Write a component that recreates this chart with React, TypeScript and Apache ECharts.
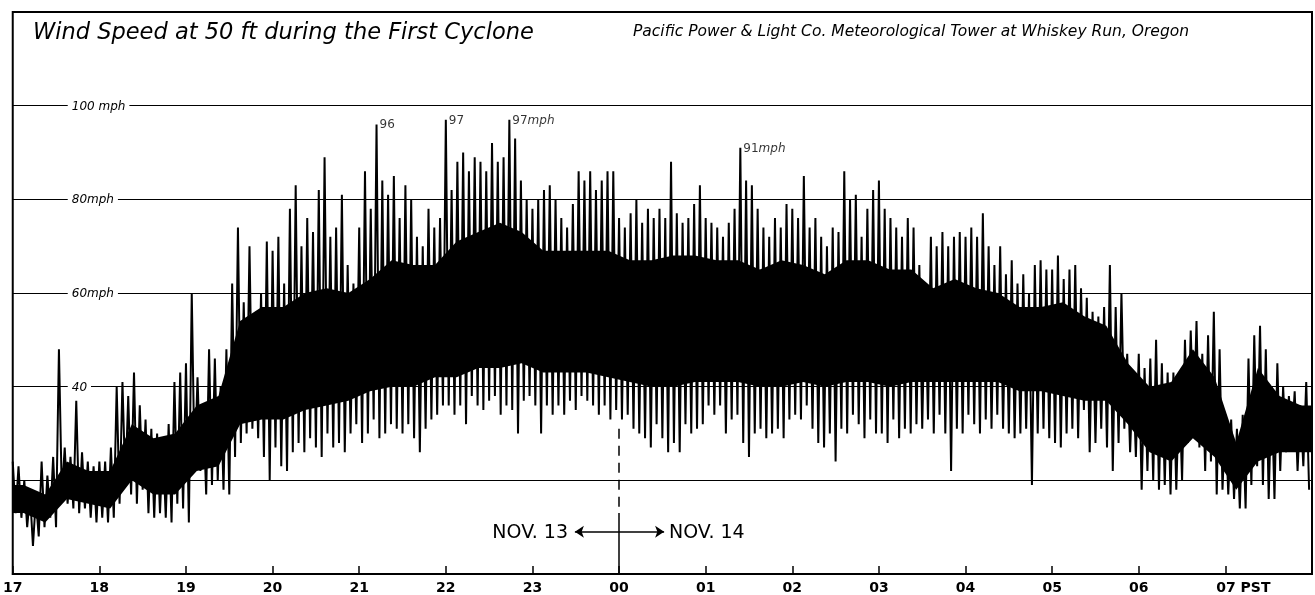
import React, { useEffect, useRef } from "react";
import * as echarts from "echarts";

// Hour labels along the time axis (17:00 Nov 13 to 08:00 Nov 14, PST)
const hourLabels = ["17", "18", "19", "20", "21", "22", "23", "00", "01", "02", "03", "04", "05", "06", "07 PST"];

// Wind speed (mph) read per 4-minute interval: highest gust and lowest lull in each interval
const hi17 = [24, 23, 20, 17, 16, 24, 21, 25, 48, 27, 25, 37, 26, 24, 23];
const lo17 = [13, 12, 10, 6, 8, 10, 12, 10, 17, 15, 14, 13, 14, 12, 11];
const hi18 = [24, 24, 27, 40, 41, 38, 43, 36, 33, 31, 30, 28, 32, 41, 43];
const lo18 = [12, 11, 12, 15, 19, 17, 15, 18, 13, 12, 13, 12, 11, 15, 14];
const hi19 = [45, 60, 42, 35, 48, 46, 40, 48, 62, 74, 58, 70, 55, 60, 71];
const lo19 = [11, 22, 22, 17, 19, 20, 18, 17, 25, 28, 30, 31, 29, 25, 20];
const hi20 = [69, 72, 62, 78, 83, 70, 76, 73, 82, 89, 72, 74, 81, 66, 62];
const lo20 = [27, 23, 22, 26, 28, 26, 29, 27, 25, 30, 27, 28, 26, 30, 32];
const hi21 = [74, 86, 78, 96, 84, 81, 85, 76, 83, 80, 72, 70, 78, 74, 76];
const lo21 = [28, 30, 33, 29, 30, 32, 31, 30, 32, 29, 26, 31, 33, 34, 36];
const hi22 = [97, 82, 88, 90, 86, 89, 88, 86, 92, 88, 89, 97, 93, 84, 80];
const lo22 = [36, 34, 36, 32, 38, 36, 35, 37, 38, 34, 36, 35, 30, 37, 38];
const hi23 = [78, 80, 82, 83, 80, 76, 74, 79, 86, 84, 86, 82, 84, 86, 86];
const lo23 = [36, 30, 36, 34, 36, 34, 37, 35, 38, 37, 36, 34, 36, 33, 35];
const hi00 = [76, 74, 77, 80, 75, 78, 76, 78, 76, 88, 77, 75, 76, 79, 83];
const lo00 = [33, 34, 31, 30, 29, 27, 32, 29, 26, 28, 26, 32, 30, 31, 32];
const hi01 = [76, 75, 74, 72, 75, 78, 91, 84, 83, 78, 74, 72, 76, 74, 79];
const lo01 = [36, 34, 36, 30, 33, 34, 28, 25, 30, 31, 29, 30, 31, 29, 33];
const hi02 = [78, 76, 85, 74, 76, 72, 70, 74, 73, 86, 80, 81, 72, 78, 82];
const lo02 = [34, 33, 36, 31, 28, 27, 30, 24, 31, 30, 34, 32, 29, 33, 30];
const hi03 = [84, 78, 76, 74, 72, 76, 74, 66, 62, 72, 70, 73, 70, 72, 73];
const lo03 = [30, 28, 33, 29, 31, 30, 32, 31, 33, 30, 34, 30, 22, 31, 30];
const hi04 = [72, 74, 72, 77, 70, 66, 70, 64, 67, 62, 64, 60, 66, 67, 65];
const lo04 = [34, 32, 30, 33, 31, 34, 31, 30, 29, 30, 31, 19, 30, 31, 29];
const hi05 = [65, 68, 63, 65, 66, 61, 59, 56, 55, 57, 66, 57, 60, 47, 43];
const lo05 = [28, 27, 30, 31, 29, 35, 26, 28, 31, 27, 22, 28, 31, 26, 25];
const hi06 = [47, 44, 46, 50, 45, 43, 43, 40, 50, 52, 54, 47, 51, 56, 48];
const lo06 = [18, 22, 20, 18, 19, 17, 18, 20, 28, 31, 27, 22, 24, 17, 18];
const hi07 = [34, 33, 31, 34, 46, 51, 53, 48, 40, 45, 40, 38, 39, 36, 41];
const lo07 = [17, 16, 14, 14, 19, 23, 19, 16, 16, 22, 26, 28, 22, 23, 18];

// Dense (solid black) part of the trace, per quarter hour, from 17:00 to 08:00
const coreLo = [
  13, 11, 16, 15, // 17
  14, 20, 17, 17, // 18
  22, 23, 32, 33, // 19
  33, 35, 36, 37, // 20
  39, 40, 40, 42, // 21
  42, 44, 44, 45, // 22
  43, 43, 43, 42, // 23
  41, 40, 40, 41, // 00
  41, 41, 40, 40, // 01
  41, 40, 41, 41, // 02
  40, 41, 41, 41, // 03
  41, 41, 39, 39, // 04
  38, 37, 37, 32, // 05
  26, 24, 29, 25, // 06
  18, 24, 26, 26, // 07
];
const coreHi = [
  19, 17, 24, 22, // 17
  22, 32, 29, 30, // 18
  36, 38, 54, 57, // 19
  57, 60, 61, 60, // 20
  63, 67, 66, 66, // 21
  71, 73, 75, 73, // 22
  69, 69, 69, 69, // 23
  67, 67, 68, 68, // 00
  67, 67, 65, 67, // 01
  66, 64, 67, 67, // 02
  65, 65, 61, 63, // 03
  61, 60, 57, 57, // 04
  58, 55, 53, 45, // 05
  40, 41, 48, 42, // 06
  28, 44, 38, 36, // 07
];

// Labelled peak gusts: hours after 17:00, mph, unit suffix
const peakTimes = [4.2, 5.0, 5.7333, 8.4];
const peakValues = [96, 97, 97, 91];
const peakUnits = ["", "", "mph", "mph"];

const hourBlocks = [
  [hi17, lo17], [hi18, lo18], [hi19, lo19], [hi20, lo20], [hi21, lo21],
  [hi22, lo22], [hi23, lo23], [hi00, lo00], [hi01, lo01], [hi02, lo02],
  [hi03, lo03], [hi04, lo04], [hi05, lo05], [hi06, lo06], [hi07, lo07],
];

function buildTrace(): number[][] {
  const pts: number[][] = [];
  hourBlocks.forEach(([hi, lo], h) => {
    for (let i = 0; i < hi.length; i++) {
      const t = h + i / 15;
      pts.push([t, hi[i]]);
      pts.push([t + 1 / 30, lo[i]]);
    }
  });
  return pts;
}

const FONT = "DejaVu Sans";

export default function App() {
  const ref = useRef<HTMLDivElement>(null);
  useEffect(() => {
    if (!ref.current) return;
    const chart = echarts.init(ref.current, null, { renderer: "svg" });
    const trace = buildTrace();
    const coreData = coreLo.map((v, i) => [i / 4 + 0.125, v, coreHi[i]]);
    const peaks = peakTimes.map((t, i) => [t, peakValues[i], String(peakValues[i]), peakUnits[i]]);
    const yLabel: Record<number, string> = { 100: "100 mph", 80: "80mph", 60: "60mph", 40: "40" };

    const renderCore = (params: any, api: any) => {
      if (params.dataIndex !== 0) return { type: "group", children: [] };
      const n = coreData.length;
      const upper: number[][] = [api.coord([0, coreData[0][2]])];
      for (let i = 0; i < n; i++) upper.push(api.coord([coreData[i][0], coreData[i][2]]));
      upper.push(api.coord([15, coreData[n - 1][2]]));
      const lower: number[][] = [api.coord([15, coreData[n - 1][1]])];
      for (let i = n - 1; i >= 0; i--) lower.push(api.coord([coreData[i][0], coreData[i][1]]));
      lower.push(api.coord([0, coreData[0][1]]));
      return {
        type: "polygon",
        shape: { points: upper.concat(lower) },
        style: { fill: "#000", stroke: "none" },
      };
    };

    chart.setOption({
      animation: false,
      grid: { left: 9, right: 3, top: 12, bottom: 21, show: true, borderColor: "#000", borderWidth: 2 },
      xAxis: {
        type: "value",
        min: 0,
        max: 15,
        interval: 1,
        axisLine: { show: true, onZero: false, lineStyle: { color: "#000", width: 2 } },
        axisTick: { show: true, inside: true, length: 8, lineStyle: { color: "#000", width: 1.5 } },
        splitLine: { show: false },
        axisLabel: {
          margin: 6,
          color: "#000",
          fontFamily: FONT,
          fontSize: 14,
          fontWeight: "bold",
          showMaxLabel: false,
          formatter: (v: number) => {
            const s = hourLabels[Math.round(v)];
            if (s === undefined) return "";
            if (Math.round(v) === 14) return "{p|" + s + "}";
            return s;
          },
          rich: {
            p: { padding: [0, 0, 0, 36], fontFamily: FONT, fontSize: 14, fontWeight: "bold", color: "#000" },
          },
        },
      },
      yAxis: {
        type: "value",
        min: 0,
        max: 120,
        interval: 20,
        axisLine: { show: false },
        axisTick: { show: false },
        splitLine: { show: true, lineStyle: { color: "#000", width: 1.2 } },
        axisLabel: {
          inside: true,
          margin: 55,
          formatter: (v: number) => (yLabel[v] ? "{b|" + yLabel[v] + "}" : ""),
          rich: {
            b: {
              backgroundColor: "#fff",
              padding: [1, 4, 1, 4],
              color: "#000",
              fontFamily: FONT,
              fontStyle: "italic",
              fontSize: 12,
            },
          },
        },
      },
      series: [
        {
          type: "custom",
          name: "core",
          data: coreData,
          renderItem: renderCore,
          silent: true,
          z: 2,
        },
        {
          type: "line",
          name: "wind",
          data: trace,
          showSymbol: false,
          symbol: "none",
          lineStyle: { color: "#000", width: 2, join: "bevel" },
          z: 3,
          markLine: {
            silent: true,
            symbol: ["arrow", "arrow"],
            symbolSize: 9,
            label: { show: false },
            data: [
              [
                { coord: [7, 31], symbol: "none", lineStyle: { color: "#000", width: 1.5, type: [10, 7] } },
                { coord: [7, 13], symbol: "none" },
              ],
              [
                { coord: [7, 13], symbol: "none", lineStyle: { color: "#000", width: 1.5, type: "solid" } },
                { coord: [7, 0], symbol: "none" },
              ],
              [
                { coord: [6.49, 9], lineStyle: { color: "#000", width: 1.5, type: "solid" } },
                { coord: [7.52, 9] },
              ],
            ],
          },
        },
        {
          type: "scatter",
          data: peaks,
          symbolSize: 0,
          z: 4,
          label: {
            show: true,
            position: "right",
            distance: 3,
            formatter: (p: any) => "{n|" + p.data[2] + "}" + (p.data[3] ? "{u|" + p.data[3] + "}" : ""),
            rich: {
              n: { fontFamily: FONT, fontSize: 12, color: "#000" },
              u: { fontFamily: FONT, fontSize: 12, fontStyle: "italic", color: "#000" },
            },
          },
        },
      ],
      graphic: [
        {
          type: "text",
          left: 33,
          top: 19,
          style: { text: "Wind Speed at 50 ft during the First Cyclone", font: "italic 22.5px 'DejaVu Sans'", fill: "#000" },
        },
        {
          type: "text",
          left: 633,
          top: 23,
          style: {
            text: "Pacific Power & Light Co. Meteorological Tower at Whiskey Run, Oregon",
            font: "italic 15.5px 'DejaVu Sans'",
            fill: "#000",
          },
        },
        {
          type: "text",
          right: 1315 - 568,
          top: 521,
          style: { text: "NOV. 13", font: "19px 'DejaVu Sans'", fill: "#000" },
        },
        {
          type: "text",
          left: 669,
          top: 521,
          style: { text: "NOV. 14", font: "19px 'DejaVu Sans'", fill: "#000" },
        },
      ],
    });
    return () => chart.dispose();
  }, []);
  return <div ref={ref} style={{ position: "fixed", left: 0, top: 0, width: 1315, height: 595 }} />;
}
